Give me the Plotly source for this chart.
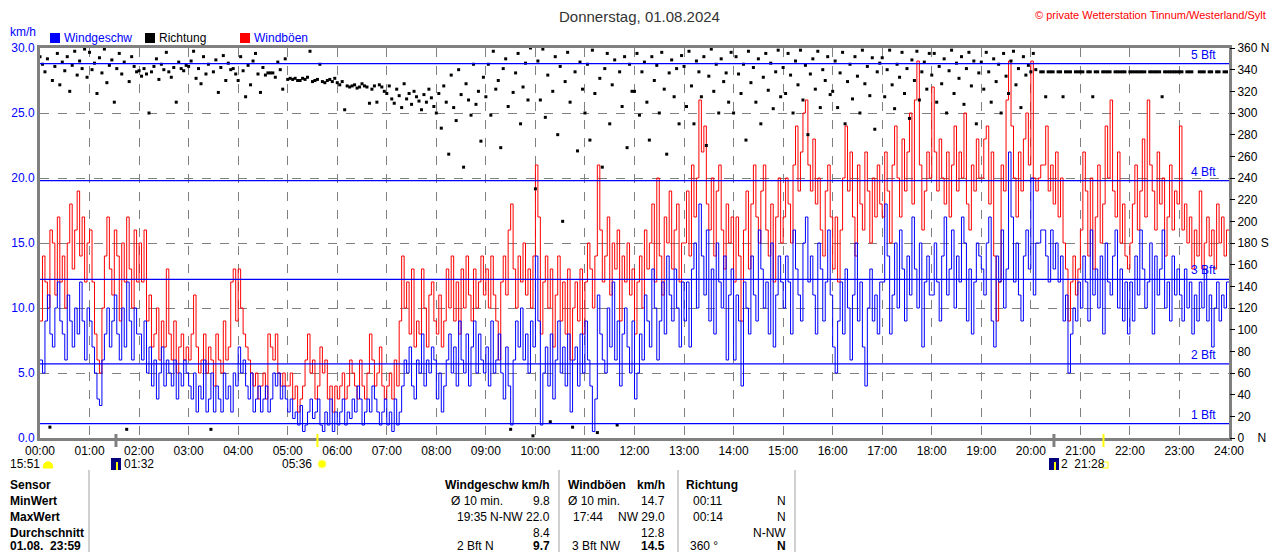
import plotly.graph_objects as go

# wind speed (km/h), one value every 3 minutes, one row per hour
wind = [
    6, 5, 9, 11, 8, 7, 10, 12, 9, 8, 6, 11, 9, 7, 10, 8, 12, 9, 6, 10,
    9, 7, 5, 3, 2.5, 6, 8, 10, 7, 9, 11, 8, 6, 10, 7, 12, 9, 6, 10, 8,
    8, 6, 9, 5, 7, 4, 6, 3, 5, 7, 4, 6, 5, 4, 6, 3, 5, 4, 6, 5,
    4, 3, 5, 2, 4, 3, 6, 2, 3, 5, 2, 4, 3, 2, 5, 3, 4, 2, 5, 4,
    7, 5, 6, 4, 3, 5, 2, 3, 4, 2, 3, 4, 2, 3, 5, 4, 5, 3, 4, 3,
    2, 3, 1.5, 2, 1, 2.5, 0.5, 1, 2, 3, 1.5, 2, 3, 1, 0.5, 2, 1, 3, 0.5, 2,
    1, 2, 3, 1, 2, 1.5, 3, 2, 4, 3, 1, 2, 3, 2, 4, 3, 2, 1, 2, 3,
    1, 2, 0.5, 3, 1, 2, 4, 6, 5, 7, 4, 3, 6, 5, 8, 4, 6, 5, 7, 6,
    3, 5, 2, 4, 6, 8, 5, 7, 4, 9, 6, 5, 8, 4, 7, 9, 5, 8, 6, 5,
    7, 4, 9, 5, 6, 8, 5, 3, 7, 4, 1, 6, 9, 7, 10, 6, 8, 5, 9, 7,
    14, 9, 1, 5, 7, 4, 8, 3, 6, 9, 5, 7, 4, 8, 2, 6, 7, 4, 8, 5,
    9, 6, 4, 0.5, 3, 11, 8, 6, 5, 10, 7, 12, 6, 9, 4, 8, 10, 7, 5, 9,
    3, 5, 8, 6, 11, 9, 7, 13, 10, 6, 9, 12, 8, 14, 11, 9, 13, 10, 7, 12,
    9, 12, 7, 13, 15, 10, 18, 14, 11, 16, 9, 13, 8, 15, 12, 10, 14, 6, 11, 13,
    6, 11, 9, 4, 12, 10, 8, 14, 11, 9, 16, 13, 10, 12, 8, 15, 7, 11, 14, 12,
    10, 14, 12, 8, 16, 13, 11, 9, 15, 17, 12, 14, 11, 8, 15, 13, 9, 12, 16, 11,
    7, 5, 9, 12, 8, 13, 10, 6, 11, 15, 9, 12, 7, 4, 10, 13, 9, 11, 8, 12,
    12, 18, 14, 8, 11, 15, 10, 16, 13, 9, 14, 11, 17, 13, 10, 15, 7, 12, 14, 11,
    11, 15, 12, 9, 14, 17, 11, 13, 16, 10, 14, 12, 17, 15, 9, 13, 8, 12, 15, 14,
    13, 11, 15, 17, 9, 7, 14, 12, 16, 10, 13, 22, 17, 12, 15, 11, 9, 14, 16, 13,
    20, 11, 15, 15, 16, 16, 14, 12, 16, 13, 15, 12, 14, 9, 11, 5, 8, 10, 9, 12,
    10, 14, 12, 9, 16, 11, 13, 10, 14, 8, 15, 12, 11, 14, 16, 10, 13, 9, 12, 8,
    12, 9, 14, 11, 16, 13, 10, 12, 15, 8, 14, 11, 13, 16, 10, 12, 9, 14, 11, 13,
    11, 9, 13, 10, 12, 8, 11, 9, 12, 10, 13, 9, 11, 7, 10, 12, 9, 11, 10, 12,
    12,
]

# gusts (km/h), same 3 minute steps
gusts = [
    9, 14, 12, 10, 16, 15, 11, 17, 12, 14, 10, 15, 18, 13, 16, 19, 14, 17, 12, 15,
    16, 12, 8, 6, 5, 10, 14, 17, 13, 11, 16, 14, 9, 15, 12, 17, 13, 10, 16, 12,
    15, 12, 16, 9, 11, 7, 8, 10, 6, 9, 7, 13, 8, 6, 9, 5, 7, 8, 6, 7,
    6, 8, 11, 7, 5, 6, 8, 5, 7, 6, 4, 8, 6, 5, 9, 6, 7, 12, 13, 9,
    13, 10, 8, 7, 6, 5, 4, 5, 3, 4, 5, 3, 8, 7, 6, 8, 5, 4, 5, 4,
    4, 5, 3, 4, 2, 3, 4, 6, 8, 5, 6, 3, 4, 7, 5, 6, 3, 4, 2, 4,
    3, 4, 5, 3, 4, 6, 5, 4, 3, 6, 4, 3, 5, 8, 6, 4, 5, 7, 4, 3,
    4, 5, 3, 6, 4, 9, 14, 10, 12, 8, 13, 7, 9, 8, 13, 10, 7, 11, 12, 9,
    8, 11, 7, 9, 13, 10, 14, 9, 12, 8, 13, 10, 14, 11, 9, 13, 10, 12, 14, 11,
    13, 10, 14, 11, 9, 6, 12, 14, 11, 16, 18, 13, 10, 14, 12, 15, 11, 13, 10, 14,
    21, 17, 8, 12, 14, 10, 13, 7, 11, 14, 9, 12, 8, 13, 6, 10, 12, 9, 13, 8,
    12, 15, 13, 10, 14, 21, 16, 12, 14, 17, 11, 15, 13, 16, 9, 14, 12, 15, 11, 13,
    8, 12, 14, 10, 16, 13, 15, 18, 12, 20, 14, 11, 17, 15, 19, 13, 16, 18, 12, 15,
    15, 19, 14, 21, 17, 20, 26, 22, 24, 18, 16, 20, 14, 19, 21, 16, 13, 18, 15, 17,
    12, 17, 14, 9, 16, 19, 13, 18, 21, 17, 15, 19, 21, 16, 14, 18, 12, 17, 20, 15,
    17, 20, 18, 15, 21, 24, 19, 22, 25, 26, 21, 19, 23, 18, 20, 16, 14, 19, 21, 17,
    13, 17, 12, 16, 20, 24, 19, 22, 17, 14, 21, 18, 16, 22, 19, 15, 20, 17, 21, 18,
    17, 22, 19, 15, 21, 24, 20, 17, 23, 19, 22, 25, 18, 26, 29, 21, 16, 19, 22, 20,
    27, 22, 19, 23, 20, 18, 22, 17, 21, 24, 19, 22, 20, 25, 18, 16, 21, 19, 23, 20,
    20, 23, 24, 18, 22, 14, 9, 12, 21, 19, 26, 29, 24, 20, 17, 22, 19, 23, 25, 21,
    29, 20, 19, 20, 21, 21, 24, 19, 21, 18, 22, 17, 20, 15, 13, 9, 12, 14, 11, 13,
    16, 22, 19, 14, 20, 13, 17, 21, 15, 18, 24, 20, 26, 19, 17, 22, 15, 18, 14, 13,
    15, 18, 21, 16, 19, 23, 17, 26, 21, 19, 16, 22, 18, 20, 14, 17, 21, 16, 19, 18,
    24, 16, 18, 15, 17, 13, 16, 14, 19, 13, 15, 17, 14, 16, 13, 18, 15, 17, 14, 16,
    16,
]

# wind direction (degrees), one value every 3 minutes, one row per hour
direction = [
    352, 345, 338, 350, 10, 330, 343, 355, 326, 347, 339, 352, 320, 344, 357, 335, 348, 341, 359, 333,
    356, 340, 346, 318, 351, 337, 359, 328, 344, 349, 310, 341, 355, 336, 347, 8, 329, 352, 343, 338,
    339, 334, 341, 336, 300, 338, 343, 350, 331, 345, 340, 356, 338, 333, 342, 310, 347, 341, 339, 344,
    343, 348, 357, 332, 341, 327, 352, 336, 345, 8, 338, 349, 319, 342, 353, 330, 346, 340, 341, 336,
    330, 352, 339, 315, 344, 326, 348, 355, 336, 319, 342, 335, 337, 337, 337, 333, 347, 340, 322, 350,
    331, 332, 331, 332, 330, 330, 332, 331, 333, 357, 329, 330, 331, 345, 329, 328, 330, 331, 329, 332,
    328, 326, 329, 303, 325, 324, 325, 326, 323, 324, 327, 325, 324, 309, 322, 325, 310, 326, 324, 320,
    318, 325, 313, 309, 322, 316, 305, 327, 313, 318, 308, 320, 315, 311, 303, 317, 310, 322, 314, 306,
    300, 318, 286, 325, 310, 262, 335, 305, 293, 340, 317, 250, 327, 312, 298, 345, 308, 320, 274, 333,
    315, 345, 298, 357, 322, 330, 268, 341, 350, 306, 8, 319, 337, 355, 290, 324, 346, 312, 360, 2,
    230, 348, 312, 359, 296, 335, 15, 320, 352, 280, 343, 200, 329, 356, 310, 10, 338, 265, 347, 322,
    300, 345, 275, 358, 318, 5, 332, 250, 341, 355, 290, 326, 349, 12, 338, 306, 352, 268, 345, 320,
    320, 355, 298, 338, 347, 310, 275, 352, 330, 344, 300, 356, 322, 262, 337, 349, 315, 341, 290, 353,
    343, 306, 357, 325, 290, 348, 338, 315, 352, 270, 334, 359, 320, 345, 300, 350, 329, 337, 310, 356,
    300, 352, 336, 318, 345, 275, 357, 328, 342, 310, 350, 290, 333, 355, 321, 346, 304, 338, 358, 315,
    342, 318, 355, 335, 300, 348, 326, 358, 312, 344, 280, 336, 350, 322, 357, 305, 340, 330, 352, 317,
    320, 348, 305, 337, 356, 290, 329, 345, 313, 352, 334, 300, 358, 327, 343, 316, 351, 285, 338, 346,
    351, 315, 340, 358, 326, 304, 345, 333, 356, 318, 341, 295, 349, 330, 357, 312, 338, 347, 322, 355,
    335, 355, 310, 343, 327, 350, 300, 339, 358, 318, 346, 332, 352, 308, 341, 356, 325, 348, 290, 337,
    347, 322, 356, 338, 310, 350, 329, 345, 300, 355, 334, 318, 348, 357, 326, 341, 305, 352, 335, 344,
    338, 355, 340, None, 338, 338, 315, 338, 338, 338, None, 338, 338, 315, 338, 338, 338, None, 338, 338,
    338, 338, None, 338, 338, 315, 338, 338, None, 338, 338, 338, 338, None, 338, 338, 338, 338, 338, None,
    338, 338, 338, 338, 338, 338, 338, None, 338, 338, 338, 338, 338, 315, 338, 338, 338, 338, 338, 338,
    338, 338, None, 338, 338, 338, None, None, 338, 338, 338, None, 338, 338, None, 338, 338, None, 338, 338,
]

hours = list(range(25))
hour_labels = ["%02d:00" % h for h in hours]
speed_ticks = [0, 5, 10, 15, 20, 25, 30]
deg_ticks = list(range(0, 361, 20))
deg_labels = [str(d) for d in deg_ticks]
deg_labels[0] = "0    N"
deg_labels[9] = "180 S"
deg_labels[18] = "360 N"

bft_levels = [1.1, 5.7, 12.2, 19.8, 28.8]
bft_labels = ["1 Bft", "2 Bft", "3 Bft", "4 Bft", "5 Bft"]

# moon / sun events (hours)
moon_times = [1 + 32 / 60, 20 + 28 / 60]
sun_times = [5 + 36 / 60, 21 + 28 / 60]

table = [
    # text, x px, y px, anchor, bold
    ("Sensor", 8, 485, "left", True),
    ("MinWert", 8, 501, "left", True),
    ("MaxWert", 8, 517, "left", True),
    ("Durchschnitt", 8, 533, "left", True),
    ("01.08.  23:59", 8, 546, "left", True),
    ("Windgeschw km/h", 552, 485, "right", True),
    ("Windböen", 566, 485, "left", True),
    ("km/h", 667, 485, "right", True),
    ("Richtung", 684, 485, "left", True),
    ("Ø 10 min.", 449, 501, "left", False),
    ("9.8", 552, 501, "right", False),
    ("Ø 10 min.", 566, 501, "left", False),
    ("14.7", 667, 501, "right", False),
    ("00:11", 691, 501, "left", False),
    ("N", 788, 501, "right", False),
    ("19:35", 455, 517, "left", False),
    ("N-NW 22.0", 552, 517, "right", False),
    ("17:44", 571, 517, "left", False),
    ("NW 29.0", 667, 517, "right", False),
    ("00:14", 691, 517, "left", False),
    ("N", 788, 517, "right", False),
    ("8.4", 552, 533, "right", False),
    ("12.8", 667, 533, "right", False),
    ("N-NW", 788, 533, "right", False),
    ("2 Bft N", 455, 546, "left", False),
    ("9.7", 552, 546, "right", True),
    ("3 Bft NW", 570, 546, "left", False),
    ("14.5", 667, 546, "right", True),
    ("360 °", 688, 546, "left", False),
    ("N", 788, 546, "right", True),
]

t_speed = [i * 3 / 60 for i in range(len(wind))]
t_dir = [i * 3 / 60 for i in range(len(direction))]

FONT = "Liberation Sans"


# page pixel -> paper coords (plot area spans x 40..1229, y 48..438 on the page)
def px(x):
    return (x - 40) / 1189


def py(y):
    return (438 - y) / 390


fig = go.Figure()
fig.add_trace(go.Scatter(x=t_speed, y=gusts, mode="lines", line=dict(color="#ff0000", width=1, shape="hv")))
fig.add_trace(go.Scatter(x=t_speed, y=wind, mode="lines", line=dict(color="#0000ff", width=1, shape="hv")))
fig.add_trace(go.Scatter(x=t_dir, y=direction, mode="markers", yaxis="y2",
                         marker=dict(color="black", size=3, symbol="square")))

shapes = []
annotations = []
for lvl, lab in zip(bft_levels, bft_labels):
    shapes.append(dict(type="line", xref="paper", x0=0, x1=1, yref="y", y0=lvl, y1=lvl,
                       line=dict(color="#0000ff", width=1.2)))
    annotations.append(dict(text=lab, xref="paper", x=px(1218), xanchor="right", yref="y", y=lvl,
                            yanchor="bottom", showarrow=False,
                            font=dict(color="#0000ff", size=12)))

# legend
legend = [("Windgeschw", "#0000ff", "#0000ff", 50), ("Richtung", "black", "black", 145),
          ("Windböen", "#ff0000", "#0000ff", 240)]
for name, box, txt, x in legend:
    shapes.append(dict(type="rect", xref="paper", yref="paper", x0=px(x), x1=px(x + 10),
                       y0=py(43), y1=py(33), fillcolor=box, line=dict(width=0)))
    annotations.append(dict(text=name, xref="paper", yref="paper", x=px(x + 12), y=py(38),
                            xanchor="left", yanchor="middle", showarrow=False,
                            font=dict(color=txt, size=12)))

annotations.append(dict(text="km/h", xref="paper", yref="paper", x=px(8), y=py(32), xanchor="left",
                        yanchor="middle", showarrow=False, font=dict(color="#0000ff", size=12)))
annotations.append(dict(text="Donnerstag, 01.08.2024", xref="paper", yref="paper", x=px(639), y=py(16),
                        xanchor="center", yanchor="middle", showarrow=False,
                        font=dict(color="#333333", size=15)))
annotations.append(dict(text="© private Wetterstation Tinnum/Westerland/Sylt", xref="paper", yref="paper",
                        x=px(1268), y=py(15), xanchor="right", yanchor="middle", showarrow=False,
                        font=dict(color="#ff0000", size=11)))

# moon / sun ticks under the axis
for t in moon_times:
    shapes.append(dict(type="line", xref="x", x0=t, x1=t, yref="paper", y0=py(434), y1=py(447),
                       line=dict(color="#808080", width=3)))
for t in sun_times:
    shapes.append(dict(type="line", xref="x", x0=t, x1=t, yref="paper", y0=py(434), y1=py(447),
                       line=dict(color="#ffff00", width=2)))

astro_text = [("15:51", 42, "right"), ("01:32", 122, "left"), ("05:36", 314, "right"),
              ("2  21:28", 1059, "left")]
for txt, x, anc in astro_text:
    annotations.append(dict(text=txt, xref="paper", yref="paper", x=px(x), y=py(464), xanchor=anc,
                            yanchor="middle", showarrow=False, font=dict(color="black", size=12)))
# icons
dome = [(43, 468), (44, 464), (46, 462), (50, 462), (52, 464), (53, 468)]
shapes.append(dict(type="path", xref="paper", yref="paper",
                   path="M " + " L ".join("%f,%f" % (px(a), py(b)) for a, b in dome) + " Z",
                   fillcolor="#ffff00", line=dict(color="#ffff00", width=1)))
for x in [111, 1049]:
    shapes.append(dict(type="rect", xref="paper", yref="paper", x0=px(x), x1=px(x + 10), y0=py(470),
                       y1=py(458), fillcolor="#00007f", line=dict(width=0)))
    shapes.append(dict(type="line", xref="paper", yref="paper", x0=px(x + 6), x1=px(x + 6), y0=py(470),
                       y1=py(462), line=dict(color="#ffff00", width=2)))
shapes.append(dict(type="circle", xref="paper", yref="paper", x0=px(318), x1=px(326), y0=py(468),
                   y1=py(460), fillcolor="#ffff00", line=dict(color="#ffff80", width=1)))
shapes.append(dict(type="rect", xref="paper", yref="paper", x0=px(1102), x1=px(1108), y0=py(468),
                   y1=py(462), line=dict(color="#ffff00", width=1)))

# table
for x in [89, 559, 678, 795]:
    shapes.append(dict(type="line", xref="paper", yref="paper", x0=px(x), x1=px(x), y0=py(470),
                       y1=py(552), line=dict(color="#a0a0a0", width=1)))
for txt, x, y, anc, bold in table:
    annotations.append(dict(text="<b>%s</b>" % txt if bold else txt, xref="paper", yref="paper",
                            x=px(x), y=py(y), xanchor=anc, yanchor="middle", showarrow=False,
                            font=dict(color="black", size=12)))

# the page body adds an 8px offset, so the figure is 8px smaller and margins shifted
fig.update_layout(
    width=1272, height=544,
    margin=dict(l=32, r=51, t=40, b=114, autoexpand=False),
    paper_bgcolor="white", plot_bgcolor="white",
    showlegend=False,
    font=dict(family=FONT, size=12, color="black"),
    shapes=shapes, annotations=annotations,
    xaxis=dict(range=[0, 24], tickvals=hours, ticktext=hour_labels, showgrid=True,
               gridcolor="#808080", griddash="dash", gridwidth=1, zeroline=False, automargin=False,
               showline=True, linecolor="#808080", linewidth=3, mirror=True, ticks="",
               tickfont=dict(size=12, color="black")),
    yaxis=dict(range=[0, 30], tickvals=speed_ticks, ticktext=["%.1f" % v for v in speed_ticks],
               showgrid=True, gridcolor="#808080", griddash="dash", gridwidth=1, zeroline=False,
               automargin=False, showline=True, linecolor="#808080", linewidth=3, mirror=True,
               ticks="", tickfont=dict(size=12, color="#0000ff")),
    yaxis2=dict(range=[0, 360], overlaying="y", side="right", tickvals=deg_ticks, ticktext=deg_labels,
                showgrid=False, zeroline=False, ticks="outside", ticklen=5, tickcolor="black",
                automargin=False, showline=False, tickfont=dict(size=12, color="black")),
)

fig.write_html("out.html")
